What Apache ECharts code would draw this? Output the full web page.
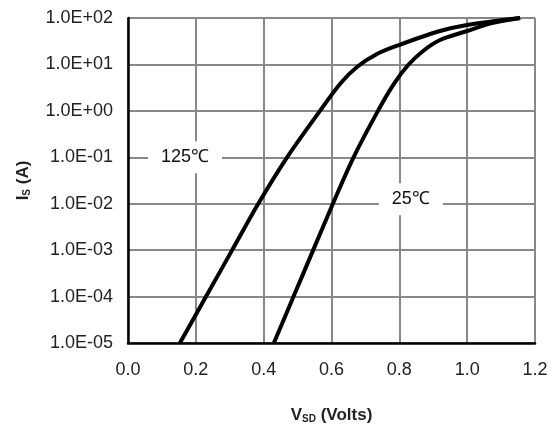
<!DOCTYPE html>
<html>
<head>
<meta charset="utf-8">
<script src="https://cdn.jsdelivr.net/npm/echarts@6/dist/echarts.min.js"></script>
<style>
html,body{margin:0;padding:0;background:#fff;}
#chart{width:553px;height:430px;}
</style>
</head>
<body>
<div id="chart"></div>
<script>
// Data
var vsd125 = [0.153, 0.230, 0.307, 0.384, 0.469, 0.566, 0.625, 0.675, 0.734, 0.799, 0.920, 1.000, 1.156];
var is125  = [1e-5, 1e-4, 1e-3, 1e-2, 1e-1, 1, 3.8, 8.8, 16.8, 26.2, 52.5, 71, 100];
var vsd25  = [0.430, 0.488, 0.546, 0.604, 0.665, 0.737, 0.784, 0.826, 0.870, 0.920, 1.000, 1.073, 1.156];
var is25   = [1e-5, 1e-4, 1e-3, 1e-2, 1e-1, 1, 3.8, 9.7, 19.5, 33.6, 52.5, 78, 100];
var seriesNames = ['125℃', '25℃'];
var labelPos125 = [0.168, 0.1];
var labelPos25 = [0.834, 0.0125];
var xTickLabels = ['0.0', '0.2', '0.4', '0.6', '0.8', '1.0', '1.2'];
var yTickLabels = ['1.0E-05', '1.0E-04', '1.0E-03', '1.0E-02', '1.0E-01', '1.0E+00', '1.0E+01', '1.0E+02'];

function pairs(xs, ys) { return xs.map(function (x, i) { return [x, ys[i]]; }); }

var chart = echarts.init(document.getElementById('chart'));
var font = 'Liberation Sans, Arial, sans-serif';
var labelStyle = {
  show: true, position: 'inside', fontFamily: font, fontSize: 18, color: '#111',
  textBorderWidth: 0, opacity: 1,
  backgroundColor: '#fff', padding: [7, 13, 7, 13]
};
chart.setOption({
  animation: false,
  backgroundColor: '#fff',
  grid: { left: 128, right: 18, top: 18, bottom: 87 },
  xAxis: {
    type: 'value', min: 0, max: 1.2, interval: 0.2,
    name: '{v|V}{s|SD}{v| (Volts)}',
    nameLocation: 'middle', nameGap: 63,
    nameTextStyle: {
      rich: {
        v: { fontFamily: font, fontWeight: 'bold', fontSize: 17, color: '#222' },
        s: { fontFamily: font, fontWeight: 'bold', fontSize: 10, color: '#222', verticalAlign: 'bottom', padding: [8, 0, 0, 0] }
      }
    },
    axisLine: { show: true, lineStyle: { color: '#000', width: 2.5 } },
    axisTick: { show: false },
    axisLabel: {
      margin: 18, fontFamily: font, fontSize: 18, color: '#222',
      formatter: function (v) { return xTickLabels[Math.round(v / 0.2)]; }
    },
    splitLine: { show: true, lineStyle: { color: '#888', width: 2 } }
  },
  yAxis: {
    type: 'log', logBase: 10, min: 1e-5, max: 1e2,
    name: '{v|I}{s|S}{v| (A)}',
    nameLocation: 'middle', nameGap: 96,
    nameTextStyle: {
      rich: {
        v: { fontFamily: font, fontWeight: 'bold', fontSize: 17, color: '#222' },
        s: { fontFamily: font, fontWeight: 'bold', fontSize: 10, color: '#222', verticalAlign: 'bottom', padding: [8, 0, 0, 0] }
      }
    },
    axisLine: { show: true, lineStyle: { color: '#000', width: 2.5 } },
    axisTick: { show: false },
    axisLabel: {
      margin: 15, fontFamily: font, fontSize: 18, color: '#222',
      formatter: function (v) { return yTickLabels[Math.round(Math.log10(v)) + 5]; }
    },
    splitLine: { show: true, lineStyle: { color: '#888', width: 2 } }
  },
  series: [
    {
      name: seriesNames[0], type: 'line', data: pairs(vsd125, is125), smooth: 0.3,
      symbol: 'none', lineStyle: { color: '#000', width: 4 }, z: 3
    },
    {
      name: seriesNames[1], type: 'line', data: pairs(vsd25, is25), smooth: 0.3,
      symbol: 'none', lineStyle: { color: '#000', width: 4 }, z: 3
    },
    {
      type: 'scatter', symbolSize: 0, itemStyle: { color: '#fff', opacity: 1 }, z: 4,
      emphasis: { disabled: true },
      data: [
        { value: labelPos125, label: Object.assign({ formatter: seriesNames[0] }, labelStyle) },
        { value: labelPos25, label: Object.assign({ formatter: seriesNames[1] }, labelStyle) }
      ]
    }
  ]
});
</script>
</body>
</html>
